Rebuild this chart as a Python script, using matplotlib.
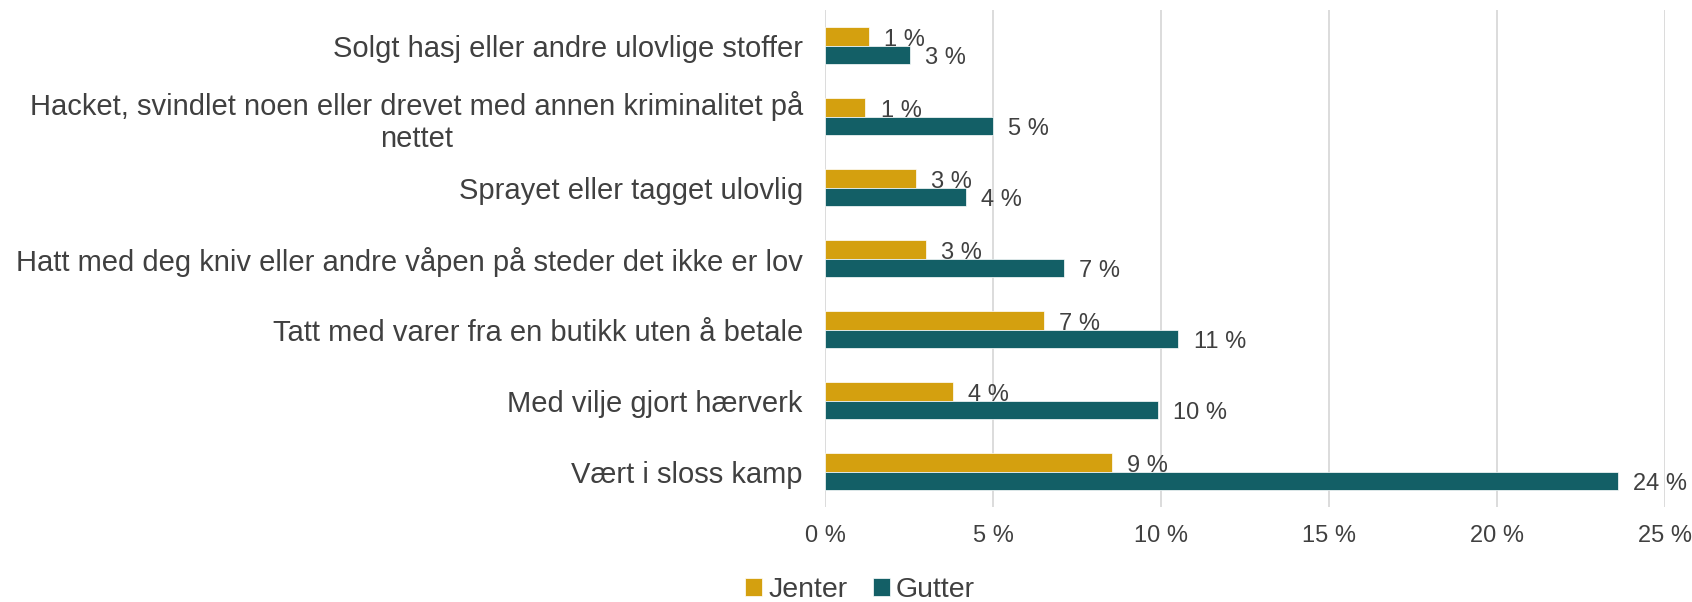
import numpy as np
import matplotlib.pyplot as plt
from matplotlib.ticker import FuncFormatter

plt.rcParams['font.family'] = ['Liberation Sans', 'DejaVu Sans']

# data (top to bottom)
kategorier = ['Solgt hasj eller andre ulovlige stoffer',
              'Hacket, svindlet noen eller drevet med annen kriminalitet på\nnettet',
              'Sprayet eller tagget ulovlig',
              'Hatt med deg kniv eller andre våpen på steder det ikke er lov',
              'Tatt med varer fra en butikk uten å betale',
              'Med vilje gjort hærverk',
              'Vært i sloss kamp']
jenter = [1.3, 1.2, 2.7, 3.0, 6.52, 3.8, 8.53]
gutter = [2.52, 5.0, 4.2, 7.1, 10.52, 9.9, 23.6]
xticks = [0, 5, 10, 15, 20, 25]

c_jenter = '#D4A00F'
c_gutter = '#135F66'
txt = '#404040'

fig = plt.figure(figsize=(16.92, 6.02), dpi=100)
ax = fig.add_axes([825/1692, 1-507/602, 840/1692, 497/602])

y = np.arange(len(kategorier))
h = 0.254
b1 = ax.barh(y - h/2, jenter, h, color=c_jenter, edgecolor='white', linewidth=0.5, label='Jenter')
b2 = ax.barh(y + h/2, gutter, h, color=c_gutter, edgecolor='white', linewidth=0.5, label='Gutter')

etiketter = ax.bar_label(b1, labels=[f'{v:.0f} %' for v in jenter], padding=11, fontsize=17, color=txt)
etiketter += ax.bar_label(b2, labels=[f'{v:.0f} %' for v in gutter], padding=11, fontsize=17, color=txt)
for e in etiketter:
    e.xyann = (11, -2.5)   # litt lavere, som i originalen

ax.set_ylim(len(kategorier) - 0.5, -0.5)
ax.set_yticks(y)
ax.set_yticklabels(kategorier, fontsize=21, color=txt, multialignment='center')
ax.set_xlim(0, 25)
ax.set_xticks(xticks)
ax.xaxis.set_major_formatter(FuncFormatter(lambda v, p: f'{v:.0f} %'))
ax.tick_params(axis='x', length=0, pad=13, labelsize=17, labelcolor=txt)
ax.tick_params(axis='y', length=0, pad=16)

ax.grid(axis='x', color='#D9D9D9', linewidth=1.3)
ax.set_axisbelow(True)
for s in ax.spines.values():
    s.set_visible(False)

fig.legend(loc='center', bbox_to_anchor=(860/1692, 1-590/602), ncol=2, frameon=False,
           fontsize=20.5, labelcolor=txt, handlelength=0.6, handleheight=0.6,
           handletextpad=0.2, columnspacing=0.9, borderpad=0)

plt.savefig('out.png')
